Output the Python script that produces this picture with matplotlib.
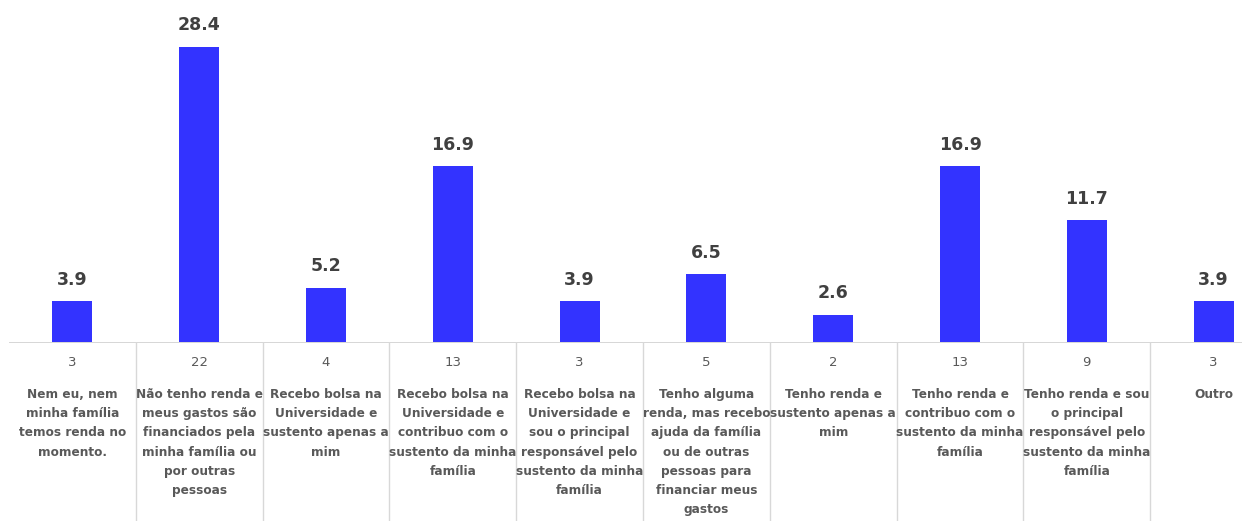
import matplotlib
matplotlib.use("Agg")
import matplotlib.pyplot as plt

percentages = [3.9, 28.4, 5.2, 16.9, 3.9, 6.5, 2.6, 16.9, 11.7, 3.9]
counts = [3, 22, 4, 13, 3, 5, 2, 13, 9, 3]
categories = [
    "Nem eu, nem\nminha família\ntemos renda no\nmomento.",
    "Não tenho renda e\nmeus gastos são\nfinanciados pela\nminha família ou\npor outras\npessoas",
    "Recebo bolsa na\nUniversidade e\nsustento apenas a\nmim",
    "Recebo bolsa na\nUniversidade e\ncontribuo com o\nsustento da minha\nfamília",
    "Recebo bolsa na\nUniversidade e\nsou o principal\nresponsável pelo\nsustento da minha\nfamília",
    "Tenho alguma\nrenda, mas recebo\najuda da família\nou de outras\npessoas para\nfinanciar meus\ngastos",
    "Tenho renda e\nsustento apenas a\nmim",
    "Tenho renda e\ncontribuo com o\nsustento da minha\nfamília",
    "Tenho renda e sou\no principal\nresponsável pelo\nsustento da minha\nfamília",
    "Outro",
]

W, H = 1242, 521
fig = plt.figure(figsize=(W / 100, H / 100), dpi=100)

left_px, base_px = 9, 342
cell_px = 126.8
ax = fig.add_axes([left_px / W, (H - base_px) / H, 1 - left_px / W, base_px / H])
ax.set_xlim(-0.5, (W - left_px) / cell_px - 0.5)
ax.set_ylim(0, 32.9)

x = list(range(len(percentages)))
ax.bar(x, percentages, width=0.315, color="#3333ff", zorder=2)

for xi, v in zip(x, percentages):
    ax.annotate(f"{v:.1f}", (xi, v), xytext=(0, 9), textcoords="offset points",
                ha="center", va="bottom", fontsize=12.5, fontweight="bold",
                color="#404040", family="DejaVu Sans")

for s in ax.spines.values():
    s.set_visible(False)
ax.set_xticks([])
ax.set_yticks([])

# table underneath: axis line, cell separators, counts and category names
tab = fig.add_axes([left_px / W, 0, 1 - left_px / W, (H - base_px) / H])
tab.set_xlim(ax.get_xlim())
tab.set_ylim(H - base_px, 0)
tab.axis("off")
tab.axhline(0, color="#d0d0d0", lw=1.2)
for i in range(1, len(percentages)):
    tab.plot([i - 0.5, i - 0.5], [0, H - base_px + 5], color="#d8d8d8", lw=1)

for xi, c, lab in zip(x, counts, categories):
    tab.text(xi, 21, str(c), ha="center", va="center", fontsize=9.5,
             color="#595959", family="DejaVu Sans")
    tab.text(xi, 46, lab, ha="center", va="top", fontsize=8.7,
             color="#595959", fontweight="bold", family="DejaVu Sans Condensed",
             linespacing=1.62)

fig.savefig("out.png", dpi=100)
